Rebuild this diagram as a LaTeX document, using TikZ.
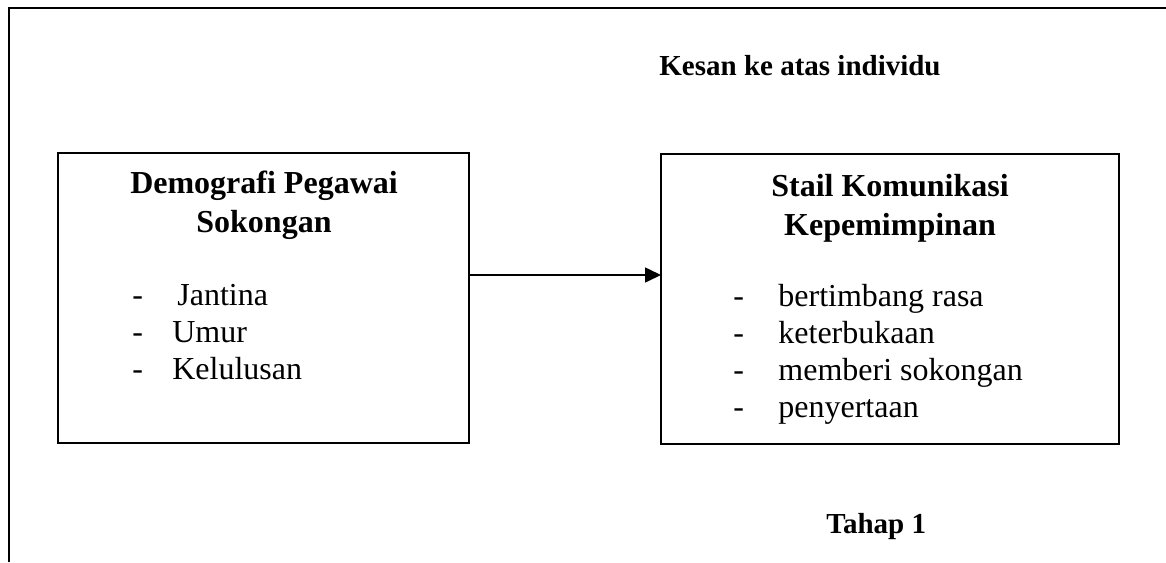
\documentclass[tikz,border=0pt]{standalone}
\usepackage{fontspec}
\setmainfont{Liberation Serif}
\usetikzlibrary{arrows.meta,positioning}

\begin{document}
\begin{tikzpicture}[
    x=0.5pt,y=-0.5pt,
    box/.style={draw,line width=0.8pt,inner sep=0pt,outer sep=0pt,minimum width=#1,minimum height=145pt},
    hd/.style={font=\fontsize{16pt}{19.5pt}\selectfont\bfseries,anchor=base,inner sep=0pt},
    itm/.style={font=\fontsize{16pt}{18.5pt}\selectfont,anchor=base west,inner sep=0pt},
    lbl/.style={font=\fontsize{14.5pt}{17pt}\selectfont\bfseries,anchor=base west,inner sep=0pt},
    >={Triangle[length=8pt,width=7.5pt]}
  ]
  \useasboundingbox (0,0) rectangle (1166,562);

  % Outer frame (top and left only)
  \draw[line width=1pt] (9,562) -- (9,8) -- (1166,8);

  % Top label
  \node[lbl] (kesan) at (659,75) {Kesan ke atas individu};

  % Boxes
  \node[box=205.5pt] (demo) at (263.5,298) {};
  \node[box=229pt] (stail) at (890,299) {};

  % Left box text
  \node[hd] (demoA) at (264,193) {Demografi Pegawai};
  \node[hd] (demoB) at (264,232) {Sokongan};
  \node[itm] (jantina) at (132,305) {\makebox[22.5pt][l]{-}Jantina};
  \node[itm] (umur) at (132,342) {\makebox[20pt][l]{-}Umur};
  \node[itm] (lulus) at (132,379) {\makebox[20pt][l]{-}Kelulusan};

  % Right box text
  \node[hd] (stailA) at (890,196) {Stail Komunikasi};
  \node[hd] (stailB) at (890,235) {Kepemimpinan};
  \node[itm] (timbang) at (733,306) {\makebox[22.5pt][l]{-}bertimbang rasa};
  \node[itm] (buka) at (733,343) {\makebox[22.5pt][l]{-}keterbukaan};
  \node[itm] (sokong) at (733,380) {\makebox[22.5pt][l]{-}memberi sokongan};
  \node[itm] (serta) at (733,417) {\makebox[22.5pt][l]{-}penyertaan};

  % Bottom label
  \node[lbl] (tahap) at (826,533) {Tahap 1};

  % Arrow
  \coordinate (arr) at (469,275);
  \draw[->,line width=0.8pt] (demo.east |- arr) -- (stail.west |- arr);
\end{tikzpicture}
\end{document}
